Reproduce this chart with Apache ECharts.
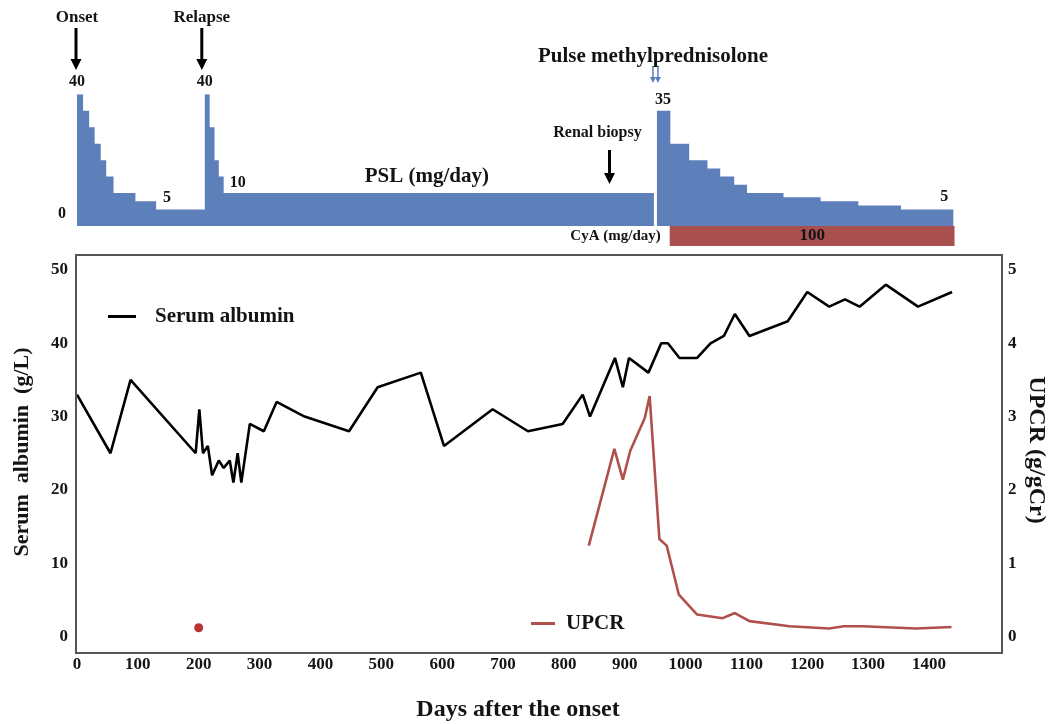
<!DOCTYPE html>
<html>
<head>
<meta charset="utf-8">
<script src="https://cdn.jsdelivr.net/npm/echarts@6/dist/echarts.min.js"></script>
<style>
html, body { margin: 0; background: #fff; }
#main { width: 1053px; height: 724px; }
</style>
</head>
<body>
<div id="main"></div>
<script>
// PSL dose steps (mg/day), each dose holds until the next day value
var pslDays1 = [0, 10, 20, 29, 39, 48, 60, 96, 130, 210, 218, 226, 233, 241, 948];
var pslDose1 = [40, 35, 30, 25, 20, 15, 10, 7.5, 5, 40, 30, 20, 15, 10, 10];
var pslDays2 = [953, 975, 1006, 1036, 1057, 1080, 1101, 1161, 1222, 1284, 1354, 1440];
var pslDose2 = [35, 25, 20, 17.5, 15, 12.5, 10, 8.75, 7.5, 6.25, 5, 5];

// CyA course
var cyaStart = [974];
var cyaEnd = [1442];
var cyaDose = [100];

// events (days)
var onsetDay = 0;
var relapseDay = 210;
var biopsyDay = 875;
var pulseDay = 953;

// serum albumin (g/L)
var albDays = [0, 55, 88, 195, 201, 207, 215, 222, 233, 241, 251, 257, 264, 270, 284, 307, 328, 374, 447, 494,
  565, 603, 683, 741, 798, 831, 843, 884, 897, 907, 939, 960, 971, 990, 1019, 1041, 1063, 1081, 1105, 1168,
  1200, 1236, 1262, 1286, 1329, 1382, 1438];
var albVals = [33, 25, 35, 25, 31, 25, 26, 22, 24, 23, 24, 21, 25, 21, 29, 28, 32, 30, 28, 34,
  36, 26, 31, 28, 29, 33, 30, 38, 34, 38, 36, 40, 40, 38, 38, 40, 41, 44, 41, 43,
  47, 45, 46, 45, 48, 45, 47];

// UPCR (g/gCr)
var upDays = [841, 883, 897, 909, 933, 941, 957, 969, 989, 1019, 1061, 1081, 1105, 1171, 1236, 1260, 1291, 1379, 1437];
var upVals = [1.24, 2.56, 2.14, 2.53, 2.98, 3.28, 1.33, 1.24, 0.57, 0.30, 0.25, 0.32, 0.21, 0.14, 0.11, 0.14, 0.14, 0.11, 0.13];
var upDotDays = [200];
var upDotVals = [0.12];

var dayTicks = [0, 100, 200, 300, 400, 500, 600, 700, 800, 900, 1000, 1100, 1200, 1300, 1400];

var FONT = '"Liberation Serif", "Times New Roman", serif';
var INK = '#141414';
var BLUE = '#5D7FBA';
var RED = '#B0504D';
var DAY_MAX = 1520;

function pairs(xs, ys) {
  return xs.map(function (x, i) { return [x, ys[i]]; });
}

function label(text, x, y, size, align) {
  return {
    type: 'text', x: x, y: y, z: 20,
    style: { text: text, font: 'bold ' + size + 'px ' + FONT, fill: INK, align: align || 'center', verticalAlign: 'middle' }
  };
}

function arrow(x, y1, y2, color, shaft, head) {
  return {
    type: 'group', z: 20,
    children: [
      { type: 'line', shape: { x1: x, y1: y1, x2: x, y2: y2 - head }, style: { stroke: color, lineWidth: shaft } },
      { type: 'polygon', shape: { points: [[x - head / 2, y2 - head], [x + head / 2, y2 - head], [x, y2]] }, style: { fill: color } }
    ]
  };
}

var chart = echarts.init(document.getElementById('main'));

var hiddenX = function (idx) {
  return { gridIndex: idx, type: 'value', min: 0, max: DAY_MAX, show: false };
};

chart.setOption({
  animation: false,
  grid: [
    { left: 77, right: 51, top: 94.3, bottom: 498 },
    { left: 77, right: 51, top: 226, height: 20 },
    { left: 77, right: 51, top: 270, bottom: 87.5 }
  ],
  xAxis: [
    hiddenX(0),
    hiddenX(1),
    {
      gridIndex: 2, type: 'value', min: 0, max: DAY_MAX, interval: 100,
      axisLine: { show: false }, axisTick: { show: false }, splitLine: { show: false },
      axisLabel: {
        margin: 20, color: INK, fontFamily: FONT, fontWeight: 'bold', fontSize: 17,
        showMaxLabel: false,
        formatter: function (v) { return dayTicks.indexOf(v) >= 0 ? String(v) : ''; }
      }
    }
  ],
  yAxis: [
    { gridIndex: 0, type: 'value', min: 0, max: 40, show: false },
    { gridIndex: 1, type: 'value', min: 0, max: 1, show: false },
    {
      gridIndex: 2, type: 'value', min: 0, max: 50, interval: 10, position: 'left',
      axisLine: { show: false }, axisTick: { show: false }, splitLine: { show: false },
      axisLabel: { margin: 9, color: INK, fontFamily: FONT, fontWeight: 'bold', fontSize: 17 }
    },
    {
      gridIndex: 2, type: 'value', min: 0, max: 5, interval: 1, position: 'right',
      axisLine: { show: false }, axisTick: { show: false }, splitLine: { show: false },
      axisLabel: { margin: 6, color: INK, fontFamily: FONT, fontWeight: 'bold', fontSize: 17 }
    }
  ],
  legend: [
    {
      data: ['Serum albumin'], left: 108, top: 306, padding: 0,
      icon: 'rect', itemWidth: 28, itemHeight: 3, selectedMode: false,
      textStyle: { color: INK, fontFamily: FONT, fontWeight: 'bold', fontSize: 21, padding: [0, 0, 0, 14] }
    },
    {
      data: ['UPCR'], left: 531, top: 613, padding: 0,
      icon: 'rect', itemWidth: 24, itemHeight: 3, selectedMode: false,
      textStyle: { color: INK, fontFamily: FONT, fontWeight: 'bold', fontSize: 21, padding: [0, 0, 0, 6] }
    }
  ],
  series: [
    {
      name: 'PSL', type: 'line', xAxisIndex: 0, yAxisIndex: 0, step: 'end', symbol: 'none',
      lineStyle: { width: 0 }, areaStyle: { color: BLUE, opacity: 1 },
      data: pairs(pslDays1, pslDose1)
    },
    {
      name: 'PSL after pulse', type: 'line', xAxisIndex: 0, yAxisIndex: 0, step: 'end', symbol: 'none',
      lineStyle: { width: 0 }, areaStyle: { color: BLUE, opacity: 1 },
      data: pairs(pslDays2, pslDose2)
    },
    {
      name: 'CyA', type: 'custom', xAxisIndex: 1, yAxisIndex: 1,
      data: cyaStart.map(function (s, i) { return [s, cyaEnd[i], cyaDose[i]]; }),
      renderItem: function (params, api) {
        var p0 = api.coord([api.value(0), 1]);
        var p1 = api.coord([api.value(1), 0]);
        return {
          type: 'rect',
          shape: { x: p0[0], y: p0[1], width: p1[0] - p0[0], height: p1[1] - p0[1] },
          style: { fill: '#A94F4D' },
          textContent: { style: { text: String(api.value(2)), font: 'bold 17px ' + FONT, fill: INK } },
          textConfig: { position: 'inside' }
        };
      }
    },
    {
      name: 'Serum albumin', type: 'line', xAxisIndex: 2, yAxisIndex: 2, symbol: 'none',
      color: '#000', lineStyle: { color: '#000', width: 2.6 },
      data: pairs(albDays, albVals)
    },
    {
      name: 'UPCR', type: 'line', xAxisIndex: 2, yAxisIndex: 3, symbol: 'none',
      color: RED, lineStyle: { color: RED, width: 2.6 },
      data: pairs(upDays, upVals)
    },
    {
      name: 'UPCR single', type: 'scatter', xAxisIndex: 2, yAxisIndex: 3, symbolSize: 9,
      itemStyle: { color: '#A80000' },
      data: pairs(upDotDays, upDotVals)
    }
  ]
});

// annotations follow the day scale of the top panel
function px(day) {
  return chart.convertToPixel({ xAxisIndex: 0 }, day);
}

var xOnset = px(onsetDay);
var xRelapse = px(relapseDay);
var xBiopsy = px(biopsyDay);
var xPulse = px(pulseDay);

chart.setOption({
  graphic: [
    { type: 'rect', z: 5, shape: { x: 76, y: 255, width: 926, height: 398 }, style: { fill: 'none', stroke: '#555', lineWidth: 2 } },
    label('Onset', xOnset, 18, 17),
    label('Relapse', xRelapse - 3, 18, 17),
    arrow(xOnset - 1, 28, 70, '#000', 3, 11),
    arrow(xRelapse - 3, 28, 70, '#000', 3, 11),
    label('40', xOnset, 82, 16),
    label('40', xRelapse, 82, 16),
    label('0', 62, 214, 16),
    label('5', px(pslDays1[8]) + 11, 198, 16),
    label('10', px(pslDays1[13]) + 14, 183, 16),
    label('PSL (mg/day)', px(575), 177, 21),
    label('Renal biopsy', xBiopsy - 12, 133, 16),
    arrow(xBiopsy, 150, 184, '#000', 3, 11),
    label('Pulse methylprednisolone', xPulse - 4, 57, 21),
    arrow(xPulse - 4, 66, 83, '#5B80C0', 1.5, 6),
    arrow(xPulse + 1, 66, 83, '#5B80C0', 1.5, 6),
    label('35', xPulse + 6, 100, 16),
    label('5', px(pslDays2[pslDays2.length - 1]) - 9, 197, 16),
    label('CyA (mg/day)', px(cyaStart[0]) - 9, 236, 15, 'right'),
    {
      type: 'text', x: 22, y: 452, rotation: Math.PI / 2, z: 20,
      style: { text: 'Serum  albumin  (g/L)', font: 'bold 22px ' + FONT, fill: INK, align: 'center', verticalAlign: 'middle' }
    },
    {
      type: 'text', x: 1036, y: 450, rotation: -Math.PI / 2, z: 20,
      style: { text: 'UPCR (g/gCr)', font: 'bold 24px ' + FONT, fill: INK, align: 'center', verticalAlign: 'middle' }
    },
    label('Days after the onset', 518, 710, 24)
  ]
});
</script>
</body>
</html>
